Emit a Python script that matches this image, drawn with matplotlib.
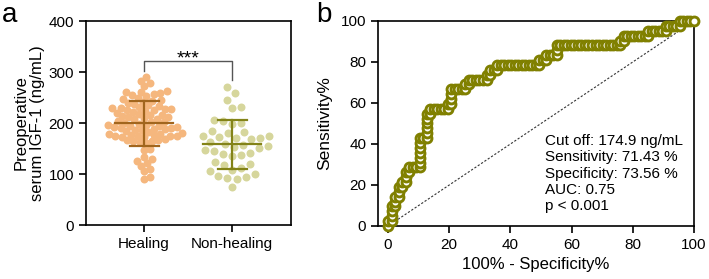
import matplotlib
matplotlib.use('Agg')
import matplotlib.pyplot as plt
import numpy as np

plt.rcParams['font.family'] = ['Liberation Sans', 'DejaVu Sans']
plt.rcParams['font.size'] = 11

# IGF-1 values (ng/mL)
groups = ['Healing', 'Non-healing']
healing = [90, 95, 105, 110, 116, 122, 126, 129, 133, 148, 150, 160, 163, 164,
           165, 166, 167, 169, 173, 173.5, 174, 174.2, 174.6,
           175, 176, 177, 178, 179, 181, 183, 184, 186, 187, 188, 189, 190,
           191, 192, 193, 194, 195, 196, 197, 199, 200, 202, 202.5, 203,
           207, 208, 210, 211, 212, 214, 215, 216, 218, 220, 222, 224, 225,
           226, 227, 228, 229, 229.5, 231, 233, 235, 238, 240, 242, 244, 245,
           248, 250, 252, 254, 256, 259, 260, 261, 262, 272, 278, 283, 290]
non_healing = [75, 91, 92, 94, 97, 100, 106, 108, 112, 118, 120, 124,
               135, 138, 140, 142, 145, 147, 151, 153, 155, 157, 159, 162,
               168, 170, 171, 172, 174.4, 174.8, 180, 182, 185, 198, 201,
               204, 206, 230, 232, 246, 258, 270]

roc_text = ['Cut off: 174.9 ng/mL', 'Sensitivity: 71.43 %',
            'Specificity: 73.56 %', 'AUC: 0.75', 'p < 0.001']

dot_cols = ['#F5B77E', '#D6D69C']
line_cols = ['#A2661E', '#838318']
roc_col = '#808000'


def swarm(vals, diam, ypx):
    # greedy beeswarm in pixel space, returns x offsets in px
    vals = np.asarray(vals, float)
    xs = np.zeros(len(vals))
    placed = []
    for i in np.argsort(vals):
        y = vals[i] * ypx
        near = [(px, py) for px, py in placed if abs(py - y) < diam]
        cands = [0.0]
        for px, py in near:
            dx = np.sqrt(diam ** 2 - (py - y) ** 2)
            cands += [px + dx, px - dx]
        cands.sort(key=abs)
        for c in cands:
            if all((c - px) ** 2 + (y - py) ** 2 >= diam ** 2 - 1e-6 for px, py in near):
                xs[i] = c
                break
        placed.append((xs[i], y))
    return xs


fig = plt.figure(figsize=(7.09, 2.79), dpi=100)
ax0 = fig.add_axes([0.1213, 0.1935, 0.2891, 0.7312])
ax1 = fig.add_axes([0.5331, 0.19, 0.4457, 0.7348])

for ax in (ax0, ax1):
    for s in ax.spines.values():
        s.set_linewidth(1.2)
    ax.tick_params(direction='out', length=5, width=1.2, labelsize=11)

# ---- panel a: dot plot
xpx, ypx = 88.0, 204.0 / 400
for k, (vals, d) in enumerate([(healing, 6.4), (non_healing, 9.4)]):
    off = swarm(vals, d, ypx) / xpx
    ax0.scatter(k + off, vals, s=33, color=dot_cols[k], linewidths=0, zorder=2)
    m, sd = np.mean(vals), np.std(vals, ddof=1)
    ax0.plot([k - 0.33, k + 0.33], [m, m], color=line_cols[k], lw=1.6, zorder=3)
    ax0.plot([k, k], [m - sd, m + sd], color=line_cols[k], lw=1.6, zorder=3)
    for yy in (m - sd, m + sd):
        ax0.plot([k - 0.165, k + 0.165], [yy, yy], color=line_cols[k], lw=1.6, zorder=3)

ax0.plot([0, 0, 1, 1], [302, 322, 322, 284], color='#555555', lw=1.0)
ax0.text(0.5, 316, '***', ha='center', va='baseline', fontsize=14)

ax0.set_xlim(-0.66, 1.67)
ax0.set_ylim(0, 400)
ax0.set_yticks([0, 100, 200, 300, 400])
ax0.set_xticks([0, 1])
ax0.set_xticklabels(groups)
ax0.set_ylabel('Preoperative\nserum IGF-1 (ng/mL)', fontsize=12, labelpad=3,
               linespacing=1.05)

# ---- panel b: ROC curve from the same values
h = np.array(healing)
n = np.array(non_healing)
cuts = np.unique(np.concatenate([h, n]))
thr = np.concatenate([[cuts[0] - 1], (cuts[:-1] + cuts[1:]) / 2, [cuts[-1] + 1]])
sens = np.array([(n < t).mean() * 100 for t in thr])
fpr = np.array([(h < t).mean() * 100 for t in thr])

ax1.plot([0, 100], [0, 100], ls=(0, (2, 1.6)), color='#333333', lw=0.8)
ax1.plot(fpr, sens, color=roc_col, lw=2, marker='o', ms=6.4, mfc='white',
         mec=roc_col, mew=2.1, clip_on=False, zorder=3)

ax1.text(51.3, 25.6, '\n'.join(roc_text), ha='left', va='center',
         fontsize=11, linespacing=1.2)

ax1.set_xlim(-3.3, 100)
ax1.set_ylim(0, 100)
ax1.set_xticks([0, 20, 40, 60, 80, 100])
ax1.set_yticks([0, 20, 40, 60, 80, 100])
ax1.set_xlabel('100% - Specificity%', fontsize=12, labelpad=4)
ax1.set_ylabel('Sensitivity%', fontsize=12.5, labelpad=6)

fig.text(0.003, 0.921, 'a', fontsize=20, va='baseline')
fig.text(0.446, 0.921, 'b', fontsize=20, va='baseline')

fig.savefig('out.png', dpi=100)
